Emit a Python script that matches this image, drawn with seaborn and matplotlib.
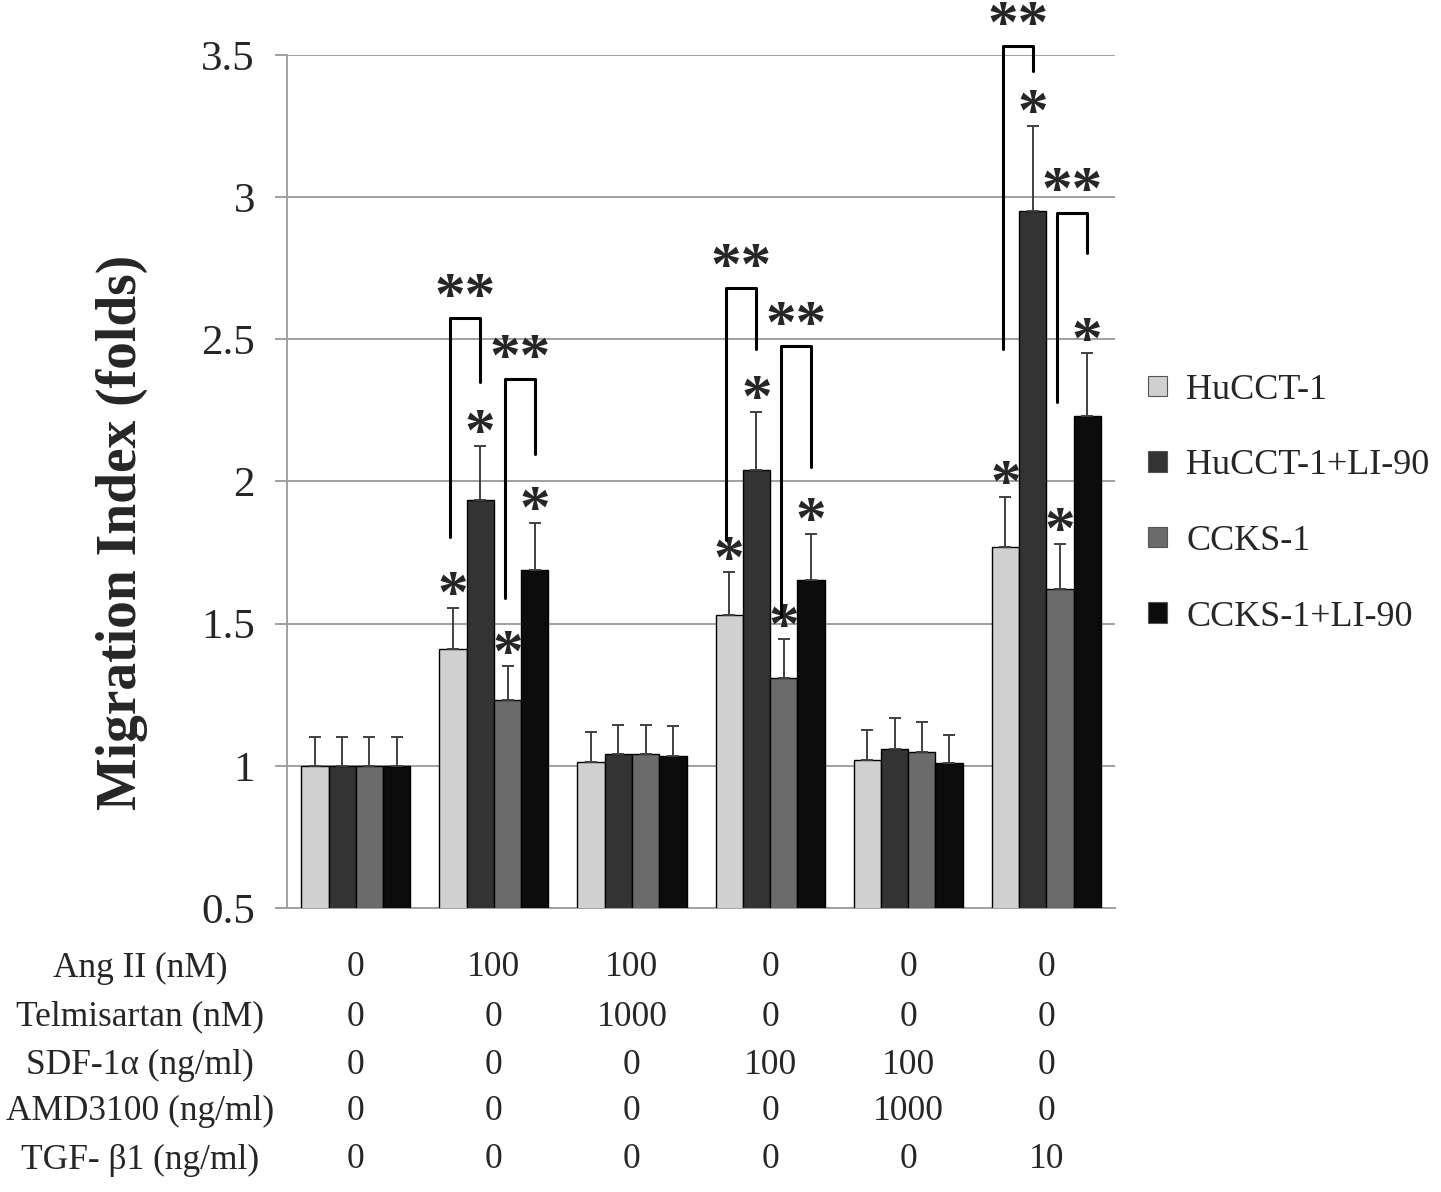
import numpy as np
import pandas as pd
import matplotlib
matplotlib.use('Agg')
import matplotlib.pyplot as plt
import seaborn as sns

# groups of treatment conditions (x categories)
groups = ['C1', 'C2', 'C3', 'C4', 'C5', 'C6']
series = ['HuCCT-1', 'HuCCT-1+LI-90', 'CCKS-1', 'CCKS-1+LI-90']
colors = ['#d0d0d0', '#333333', '#6b6b6b', '#0c0c0c']

# mean migration index per series (one value per group)
hucct = [1.00, 1.41, 1.015, 1.53, 1.02, 1.77]
hucct_li = [1.00, 1.935, 1.04, 2.04, 1.06, 2.95]
ccks = [1.00, 1.23, 1.04, 1.31, 1.05, 1.62]
ccks_li = [1.00, 1.69, 1.035, 1.655, 1.01, 2.23]

# upper error (SD) per series
hucct_err = [0.10, 0.145, 0.105, 0.15, 0.105, 0.175]
hucct_li_err = [0.10, 0.19, 0.105, 0.205, 0.108, 0.30]
ccks_err = [0.10, 0.12, 0.105, 0.135, 0.105, 0.16]
ccks_li_err = [0.10, 0.165, 0.105, 0.16, 0.10, 0.22]

# single asterisks: which groups are significant vs control
star_groups = [1, 3, 5]

# brackets: (group, left series, right series, left foot, top, right foot)
brackets = [
    (1, 0, 1, 1.805, 2.575, 2.35),
    (1, 2, 3, 1.59, 2.36, 2.095),
    (3, 0, 1, 1.795, 2.68, 2.465),
    (3, 2, 3, 1.525, 2.475, 2.05),
    (5, 0, 1, 2.465, 3.53, 3.445),
    (5, 2, 3, 2.28, 2.945, 2.805),
]

# table below the chart
row_labels = ['Ang II (nM)', 'Telmisartan (nM)', 'SDF-1\u03b1 (ng/ml)',
              'AMD3100 (ng/ml)', 'TGF- \u03b21 (ng/ml)']
ang2 = ['0', '100', '100', '0', '0', '0']
telmi = ['0', '0', '1000', '0', '0', '0']
sdf1 = ['0', '0', '0', '100', '100', '0']
amd = ['0', '0', '0', '0', '1000', '0']
tgf = ['0', '0', '0', '0', '0', '10']
table_rows = [ang2, telmi, sdf1, amd, tgf]

means = [hucct, hucct_li, ccks, ccks_li]
errs = [hucct_err, hucct_li_err, ccks_err, ccks_li_err]

df = pd.DataFrame({
    'group': np.repeat([groups], len(series), axis=0).ravel(),
    'series': np.repeat(series, len(groups)),
    'value': np.concatenate(means),
})

sns.set_theme(style='white')
plt.rcParams['font.family'] = ['Liberation Serif', 'DejaVu Serif']

fig = plt.figure(figsize=(14.41, 11.92), dpi=100)
ax = fig.add_axes([0.199, 0.2383, 0.575, 0.7156])

sns.barplot(data=df, x='group', y='value', hue='series', order=groups,
            hue_order=series, palette=colors, errorbar=None, width=0.79,
            edgecolor='black', linewidth=1.0, ax=ax, zorder=3)

ax.set_ylim(0.5, 3.5)
ax.set_yticks(np.arange(0.5, 3.51, 0.5))
ax.set_yticklabels(['0.5', '1', '1.5', '2', '2.5', '3', '3.5'])
ax.yaxis.grid(True, color='#a0a0a0', linewidth=1.4, zorder=0)
ax.set_axisbelow(True)
ax.tick_params(axis='y', labelsize=31, length=9, width=1.4, color='#a0a0a0',
               pad=14, left=True)
ax.tick_params(axis='x', bottom=False, labelbottom=False)
ax.set_xlabel('')
for side in ['top', 'right']:
    ax.spines[side].set_visible(False)
for side in ['left', 'bottom']:
    ax.spines[side].set_color('#a0a0a0')
    ax.spines[side].set_linewidth(1.4)

ax.set_ylabel('Migration Index (folds)', fontsize=40, fontweight='bold')
ax.yaxis.set_label_coords(-0.168, 0.44)

# error bars and asterisks from the bar positions
bar_containers = list(ax.containers)
centers = {}
for j, cont in enumerate(bar_containers):
    for i, bar in enumerate(cont):
        xc = bar.get_x() + bar.get_width() / 2
        centers[(i, j)] = xc
        top = means[j][i]
        ax.errorbar(xc, top, yerr=[[0], [errs[j][i]]], fmt='none',
                    ecolor='#404040', elinewidth=1.4, capsize=4, capthick=1.4,
                    zorder=4)
        if i in star_groups:
            ax.text(xc, top + errs[j][i] - 0.015, '*', ha='center',
                    va='baseline', fontsize=44, fontweight='bold', zorder=5)

for g, a, b, yl, yt, yr in brackets:
    xl = centers[(g, a)] - 0.02
    xr = centers[(g, b)]
    ax.plot([xl, xl, xr, xr], [yl, yt, yt, yr], color='black', lw=2.2,
            clip_on=False, zorder=5)
    ax.text((xl + xr) / 2, yt + 0.015, '**', ha='center', va='baseline',
            fontsize=44, fontweight='bold', clip_on=False, zorder=5)

ax.set_xlim(-0.5, len(groups) - 0.5)

leg = ax.legend(loc='center left', bbox_to_anchor=(1.04, 0.474), frameon=False,
                fontsize=26, handlelength=0.5, handleheight=0.5,
                handletextpad=0.55, labelspacing=1.18, borderpad=0,
                borderaxespad=0)
for h in leg.legend_handles:
    h.set_edgecolor('#555555')
    h.set_linewidth(0.8)

# condition table under the axis
row_y = [968, 1017, 1065, 1111, 1160]
trans = matplotlib.transforms.blended_transform_factory(ax.transData, fig.transFigure)
for label, vals, ypx in zip(row_labels, table_rows, row_y):
    yf = 1 - ypx / 1192
    fig.text(0.097, yf, label, ha='center', va='center', fontsize=25.5)
    for i, v in enumerate(vals):
        ax.text(i, yf, v, transform=trans, ha='center', va='center',
                fontsize=25.5, clip_on=False)

fig.savefig('out.png', dpi=100)
